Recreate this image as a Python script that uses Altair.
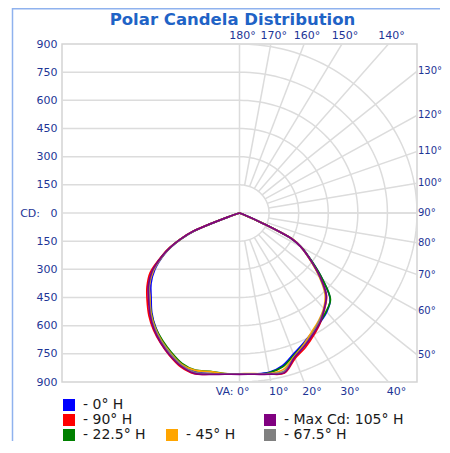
import altair as alt
import numpy as np
import pandas as pd

# ---------------- data ----------------
ANGLES = [0, 5, 10, 15, 20, 25, 30, 35, 40, 45, 50, 55, 60, 62.5, 65, 67.5, 70, 75, 80, 85, 90]

SERIES = ["0° H", "90° H", "22.5° H", "45° H", "67.5° H", "Max Cd: 105° H"]
COLORS = ["#0000ff", "#ff0000", "#008000", "#ffa500", "#808080", "#800080"]

# candela values, right half of the diagram (vertical angle 0..90)
RIGHT = {
    "0° H":           [857, 860, 862, 842, 800, 766, 736, 712, 688, 650, 548, 446, 362, 300, 138, 28, 0, 0, 0, 0, 0],
    "90° H":          [858, 861, 871, 882, 824, 790, 752, 714, 670, 624, 534, 440, 358, 304, 128, 20, 0, 0, 0, 0, 0],
    "22.5° H":        [857, 860, 864, 848, 806, 772, 740, 710, 684, 652, 550, 448, 362, 302, 134, 24, 0, 0, 0, 0, 0],
    "45° H":          [856, 859, 868, 862, 812, 772, 732, 700, 664, 614, 528, 438, 360, 306, 124, 20, 0, 0, 0, 0, 0],
    "67.5° H":        [857, 860, 869, 872, 815, 778, 740, 704, 668, 620, 532, 440, 356, 300, 124, 20, 0, 0, 0, 0, 0],
    "Max Cd: 105° H": [859, 862, 872, 880, 818, 782, 746, 712, 668, 622, 536, 442, 358, 302, 128, 22, 0, 0, 0, 0, 0],
}
# candela values, left half of the diagram (vertical angle 0..90)
LEFT = {
    "0° H":           [857, 860, 868, 874, 856, 822, 786, 742, 692, 634, 586, 524, 440, 390, 325, 240, 50, 0, 0, 0, 0],
    "90° H":          [858, 861, 872, 886, 872, 838, 800, 760, 714, 662, 612, 552, 452, 400, 335, 255, 60, 0, 0, 0, 0],
    "22.5° H":        [857, 858, 856, 866, 852, 818, 782, 744, 696, 646, 600, 536, 446, 394, 330, 250, 55, 0, 0, 0, 0],
    "45° H":          [857, 858, 858, 868, 858, 824, 788, 746, 698, 642, 596, 532, 444, 392, 328, 245, 50, 0, 0, 0, 0],
    "67.5° H":        [857, 860, 869, 878, 862, 828, 792, 750, 702, 646, 598, 538, 444, 392, 328, 248, 52, 0, 0, 0, 0],
    "Max Cd: 105° H": [859, 862, 873, 884, 868, 836, 798, 756, 706, 652, 604, 542, 448, 396, 332, 252, 55, 0, 0, 0, 0],
}

CD_TICKS = [-900, -750, -600, -450, -300, -150, 0, 150, 300, 450, 600, 750, 900]
ARC_RADII = [150, 300, 450, 600, 750, 900]
RAY_ANGLES = [10, 20, 30, 40, 50, 60, 70, 80, 90, 100, 110, 120, 130, 140, 150, 160, 170]
RIGHT_LABEL_ANGLES = [50, 60, 70, 80, 90, 100, 110, 120, 130]
TOP_LABEL_ANGLES = [140, 150, 160, 170, 180]
BOTTOM_LABEL_ANGLES = [10, 20, 30, 40]

LEGEND_A = ["0° H", "90° H", "22.5° H"]
LEGEND_B = ["45° H"]
LEGEND_C = ["Max Cd: 105° H", "67.5° H"]

TITLE = "Polar Candela Distribution"

# ---------------- tables ----------------
rows = []
for s in SERIES:
    k = 0
    for a, v in zip(reversed(ANGLES), reversed(LEFT[s])):
        rows.append({"series": s, "sign": -1, "angle": a, "cd": v, "order": k})
        k += 1
    for a, v in zip(ANGLES, RIGHT[s]):
        rows.append({"series": s, "sign": 1, "angle": a, "cd": v, "order": k})
        k += 1
curves_df = pd.DataFrame(rows)

arc_steps = np.arange(0, 181, 2)
arcs_df = pd.DataFrame([{"r": r, "t": float(t)} for r in ARC_RADII for t in arc_steps])

left_grid_df = pd.DataFrame({"cd": [v for v in CD_TICKS if abs(v) not in (0, 900)]})
rays_df = pd.DataFrame({"angle": RAY_ANGLES})
right_lab_df = pd.DataFrame({"angle": RIGHT_LABEL_ANGLES, "label": [f"{a}°" for a in RIGHT_LABEL_ANGLES]})
top_lab_df = pd.DataFrame({"angle": TOP_LABEL_ANGLES, "label": [f"{a}°" for a in TOP_LABEL_ANGLES]})
bot_lab_df = pd.DataFrame({"angle": BOTTOM_LABEL_ANGLES, "label": [f"{a}°" for a in BOTTOM_LABEL_ANGLES]})
va_df = pd.DataFrame({"angle": [0], "label": ["VA: 0°"]})

# ---------------- styles ----------------
GRID = "#dcdcdc"
NAVY = "#1e3596"
FONT = "DejaVu Sans"

xs = alt.Scale(domain=[-900, 900], nice=False, zero=False)
ys = alt.Scale(domain=[-900, 900], nice=False, zero=False)

yaxis = alt.Axis(
    values=CD_TICKS,
    labelExpr="datum.value == 0 ? 'CD:\u00a0\u00a0\u00a00' : '' + abs(datum.value)",
    ticks=False, domain=False, grid=False, title=None,
    labelFont=FONT, labelFontSize=11, labelColor=NAVY, labelPadding=5,
    labelOverlap=False,
)


def Y(field):
    return alt.Y(field, scale=ys, axis=yaxis)


def X(field):
    return alt.X(field, scale=xs, axis=None)


left_grid = alt.Chart(left_grid_df).mark_rule(color=GRID, strokeWidth=1.5).encode(
    y=Y("cd:Q"),
    x=alt.X(datum=-900, scale=xs, axis=None),
    x2=alt.X2(datum=0),
)

vline = alt.Chart(pd.DataFrame({"v": [0]})).mark_rule(color=GRID, strokeWidth=1.5).encode(x=X("v:Q"))
hline = alt.Chart(pd.DataFrame({"v": [0]})).mark_rule(color=GRID, strokeWidth=1.5).encode(y=Y("v:Q"))

arcs = alt.Chart(arcs_df).transform_calculate(
    ax="datum.r * sin(datum.t * PI / 180)",
    ay="-datum.r * cos(datum.t * PI / 180)",
).mark_line(color=GRID, strokeWidth=1.5, clip=True).encode(
    x=X("ax:Q"), y=Y("ay:Q"), detail="r:N", order="t:Q",
)

rays = alt.Chart(rays_df).transform_calculate(
    x1="150 * sin(datum.angle * PI / 180)",
    y1="-150 * cos(datum.angle * PI / 180)",
    x2="1600 * sin(datum.angle * PI / 180)",
    y2="-1600 * cos(datum.angle * PI / 180)",
).mark_rule(color=GRID, strokeWidth=1.5, clip=True).encode(
    x=X("x1:Q"), y=Y("y1:Q"), x2="x2:Q", y2="y2:Q",
)

curves = alt.Chart(curves_df).transform_calculate(
    px="datum.sign * datum.cd * sin(datum.angle * PI / 180)",
    py="-datum.cd * cos(datum.angle * PI / 180)",
).mark_line(strokeWidth=1.7, interpolate="catmull-rom").encode(
    x=X("px:Q"), y=Y("py:Q"),
    stroke=alt.Stroke("series:N", scale=alt.Scale(domain=SERIES, range=COLORS), legend=None),
    order="order:Q",
)

txt = dict(font=FONT, fontSize=11, color=NAVY)
right_labels = alt.Chart(right_lab_df).transform_calculate(
    lx="900", ly="-900 * cos(datum.angle * PI / 180) / sin(datum.angle * PI / 180)",
).mark_text(align="left", baseline="middle", dx=1, font=FONT, fontSize=10, color=NAVY).encode(
    x=X("lx:Q"), y=Y("ly:Q"), text="label:N")

top_labels = alt.Chart(top_lab_df).transform_calculate(
    lx="-900 * sin(datum.angle * PI / 180) / cos(datum.angle * PI / 180)", ly="900",
).mark_text(align="center", baseline="middle", dx=3, dy=-8, **txt).encode(
    x=X("lx:Q"), y=Y("ly:Q"), text="label:N")

bottom_labels = alt.Chart(bot_lab_df).transform_calculate(
    lx="900 * sin(datum.angle * PI / 180) / cos(datum.angle * PI / 180)", ly="-900",
).mark_text(align="center", baseline="middle", dx=8, dy=10, **txt).encode(
    x=X("lx:Q"), y=Y("ly:Q"), text="label:N")

va_label = alt.Chart(va_df).transform_calculate(
    lx="0", ly="-900",
).mark_text(align="right", baseline="middle", dx=10, dy=10, **txt).encode(
    x=X("lx:Q"), y=Y("ly:Q"), text="label:N")


def legend_layer(group, lx, ly):
    cols = [COLORS[SERIES.index(s)] for s in group]
    return alt.Chart(pd.DataFrame({"series": group})).mark_square(size=0, filled=True, opacity=1, strokeWidth=0).encode(
        color=alt.Color(
            "series:N",
            scale=alt.Scale(domain=group, range=cols),
            legend=alt.Legend(
                orient="none", legendX=lx, legendY=ly, title=None, direction="vertical",
                symbolType="square", symbolSize=144, symbolStrokeWidth=0, symbolOpacity=1,
                labelFont=FONT, labelFontSize=14, labelColor="#1a1a1a", labelOffset=7,
                labelExpr="'- ' + datum.label", rowPadding=1, padding=0, offset=0,
                labelLimit=300,
            ),
        )
    )


legA = legend_layer(LEGEND_A, 0, 354)
legB = legend_layer(LEGEND_B, 103, 384)
legC = legend_layer(LEGEND_C, 201, 369)

# light-blue outer border of the original picture (left and top edges only are visible)
BORDER = "#8fb2ee"
border_v = alt.Chart(pd.DataFrame({"v": [0]})).mark_rule(color=BORDER, strokeWidth=1.5).encode(
    x=alt.value(-49.5), y=alt.value(-36), y2=alt.value(397))
border_h = alt.Chart(pd.DataFrame({"v": [0]})).mark_rule(color=BORDER, strokeWidth=1.5).encode(
    y=alt.value(-35.3), x=alt.value(-50), x2=alt.value(378))

title = alt.Chart(pd.DataFrame({"t": [TITLE]})).mark_text(
    font=FONT, fontSize=16.5, fontWeight="bold", color="#1f63c6", align="center", baseline="alphabetic",
).encode(text="t:N", x=alt.value(170.5), y=alt.value(-19))

chart = alt.layer(
    left_grid, vline, hline, arcs, rays, curves,
    right_labels, top_labels, bottom_labels, va_label,
    legA, legB, legC, border_v, border_h, title,
).resolve_scale(color="independent").properties(
    width=355, height=338,
    autosize=alt.AutoSizeParams(type="none"),
    padding={"left": 54, "top": 36, "right": 25, "bottom": 60},
).configure_view(stroke="#d4d4d4", strokeWidth=1.5)

chart.save("out.html", embed_options={"renderer": "svg", "actions": False})
